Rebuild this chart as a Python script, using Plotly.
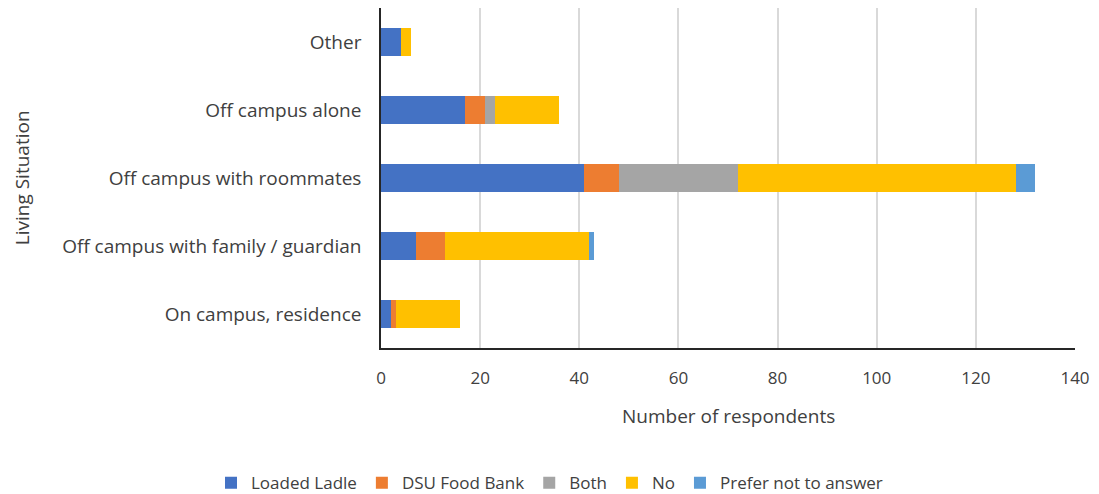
import plotly.graph_objects as go

# Living situations (bottom to top on the chart)
categories = [
    "On campus, residence",
    "Off campus with family / guardian",
    "Off campus with roommates",
    "Off campus alone",
    "Other",
]

# Food support used, counts per living situation
loaded_ladle = [2, 7, 41, 17, 4]
dsu_food_bank = [1, 6, 7, 4, 0]
both = [0, 0, 24, 2, 0]
no = [13, 29, 56, 13, 2]
prefer_not = [0, 1, 4, 0, 0]

series = [
    ("Loaded Ladle", loaded_ladle, "#4472C4"),
    ("DSU Food Bank", dsu_food_bank, "#ED7D31"),
    ("Both", both, "#A5A5A5"),
    ("No", no, "#FFC000"),
    ("Prefer not to answer", prefer_not, "#5B9BD5"),
]

x_ticks = [0, 20, 40, 60, 80, 100, 120, 140]

FONT = "Open Sans, DejaVu Sans, sans-serif"
TXT = "#404040"

fig = go.Figure()
for name, vals, color in series:
    fig.add_trace(go.Bar(
        y=categories,
        x=vals,
        name=name,
        orientation="h",
        marker=dict(color=color, line=dict(width=0)),
    ))

fig.update_layout(
    barmode="stack",
    bargap=0.6,
    width=1099,
    height=494,
    margin=dict(l=381, r=24, t=8, b=146),
    paper_bgcolor="white",
    plot_bgcolor="white",
    font=dict(family=FONT, size=17, color=TXT),
    xaxis=dict(
        range=[0, 140],
        tickvals=x_ticks,
        showgrid=True,
        gridcolor="#D9D9D9",
        gridwidth=1.5,
        showline=True,
        linecolor="#262626",
        linewidth=1.5,
        zeroline=False,
        ticks="",
        ticklabelstandoff=14,
        tickfont=dict(size=17, color=TXT),
    ),
    yaxis=dict(
        showline=True,
        linecolor="#262626",
        linewidth=1.5,
        ticks="",
        ticklabelstandoff=14,
        tickfont=dict(size=19, color=TXT),
    ),
    annotations=[
        dict(
            text="Number of respondents",
            xref="paper", yref="paper",
            x=0.5, y=-0.2,
            xanchor="center", yanchor="middle",
            showarrow=False,
            font=dict(size=19, color=TXT),
        ),
        dict(
            text="Living Situation",
            xref="paper", yref="paper",
            x=-0.517, y=0.5,
            xanchor="center", yanchor="middle",
            textangle=-90,
            showarrow=False,
            font=dict(size=19, color=TXT),
        ),
    ],
    legend=dict(
        orientation="h",
        xref="container",
        x=0.5,
        xanchor="center",
        yref="container",
        y=0.022,
        yanchor="middle",
        font=dict(size=17, color=TXT),
        traceorder="normal",
    ),
)

fig.write_html("out.html")
